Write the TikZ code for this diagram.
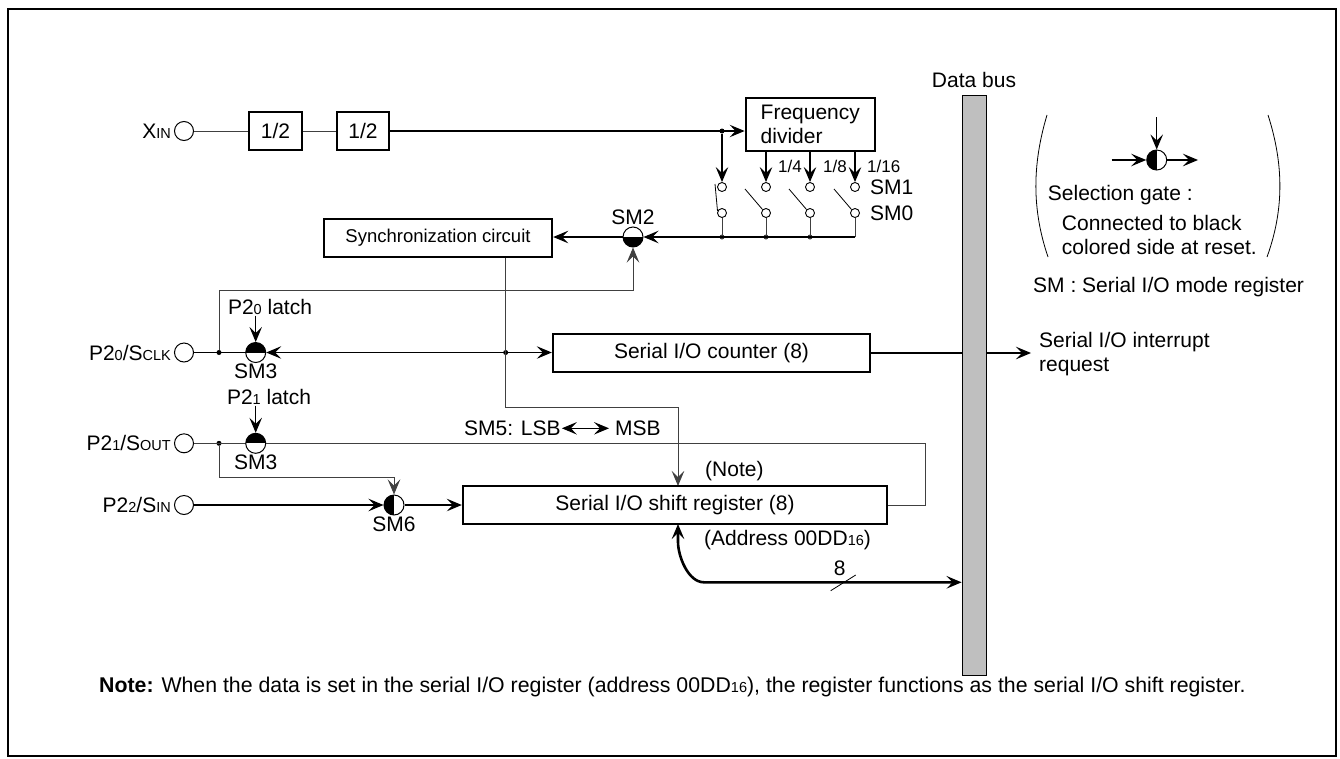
\documentclass[tikz,border=0pt]{standalone}
\usepackage{fontspec}
\setmainfont{Liberation Sans}
\usetikzlibrary{arrows.meta, positioning, calc}
\newcommand{\fs}{\fontsize{21}{24}\selectfont}
\newcommand{\fsm}{\fontsize{18.5}{22}\selectfont}
\newcommand{\fsf}{\fontsize{17}{20}\selectfont}
\newcommand{\sub}[1]{{\fontsize{14.5}{16}\selectfont #1}}

\begin{document}
\begin{tikzpicture}[x=1pt, y=-1pt,
  >={Stealth[length=15pt, width=12.5pt, inset=6pt]},
  wire/.style={line width=1.2pt},
  gwire/.style={line width=1pt, black!75},
  box/.style={draw, line width=2.4pt, minimum height=38pt, inner sep=0pt, font=\fs},
  term/.style={circle, draw, line width=1pt, minimum size=19pt, inner sep=0pt},
  sw/.style={circle, draw, line width=0.9pt, minimum size=9pt, inner sep=0pt},
  gate/.style={circle, draw, line width=1pt, minimum size=20pt, inner sep=0pt},
  blacktop/.style={gate, path picture={\fill (path picture bounding box.north west) rectangle (path picture bounding box.east);}},
  blackbottom/.style={gate, path picture={\fill (path picture bounding box.west) rectangle (path picture bounding box.south east);}},
  blackleft/.style={gate, path picture={\fill (path picture bounding box.north west) rectangle (path picture bounding box.south);}},
  lbl/.style={inner sep=1pt, font=\fs},
  dot/.style={circle, fill, minimum size=5pt, inner sep=0pt}]

  \useasboundingbox (0,0) rectangle (1340,758);
  \draw[line width=2pt] (8,9) rectangle (1336,756);

  % clock source
  \node[term] (xin) at (184,131) {};
  \node[lbl, left=2pt of xin] {X\sub{IN}};
  \node[box, minimum width=53pt] (half1) at (275.5,131) {1/2};
  \node[box, minimum width=52pt] (half2) at (363,131) {1/2};
  \node[box, minimum width=129pt, minimum height=53pt, align=left] (fdiv) at (810.3,124.5) {Frequency\\divider};
  \node[dot] (fj) at (722,131) {};
  \draw[gwire] (xin) -- (half1);
  \draw[gwire] (half1) -- (half2);
  \draw[wire,->] (half2) -- (fdiv.west |- half2);

  \foreach \i/\x in {0/722, 1/766, 2/810, 3/855} {
    \node[sw] (swt\i) at (\x,187) {};
    \node[sw] (swb\i) at (\x,213) {};
  }
  \draw[line width=0.8pt] ($(swt0)+(-7,-3)$) -- ($(swb0)+(-4.5,-2)$);
  \foreach \i in {1,2,3}
    \draw[line width=0.8pt] ($(swb\i)+(-21,-24)$) -- ($(swb\i)+(-3.5,-3.5)$);
  \draw[wire,->] (fj) -- (swt0.north);
  \foreach \i in {1,2,3}
    \draw[wire,->] (fdiv.south -| swt\i) -- (swt\i.north);
  \node[lbl, font=\fsf, anchor=west] at (777,166) {1/4};
  \node[lbl, font=\fsf, anchor=west] at (822,166) {1/8};
  \node[lbl, font=\fsf, anchor=west] at (866,166) {1/16};
  \node[lbl, anchor=west] at (869,187) {SM1};
  \node[lbl, anchor=west] at (869,213) {SM0};

  \node[blackbottom] (sm2) at (633,237) {};
  \node[lbl, above=1pt of sm2] {SM2};
  \node[box, minimum width=228pt, font=\fsm] (sync) at (438,238) {Synchronization circuit};
  \foreach \i in {0,1,2}
    \draw[gwire] (swb\i.south) -- (swb\i |- sm2) node[dot] {};
  \draw[gwire] (swb3.south) -- (swb3 |- sm2);
  \draw[wire,->] (swb3 |- sm2) -- (sm2.east);
  \draw[wire,->] (sm2.west) -- (sync.east |- sm2);

  % P20 / SCLK
  \node[term] (p20) at (184,352.5) {};
  \node[lbl, left=2pt of p20] {P2\sub{0}/S\sub{CLK}};
  \node[dot] (j20) at (219,352.5) {};
  \node[blacktop] (sm3a) at (255.7,352.5) {};
  \node[lbl] (lat20) at (270,306.7) {P2\sub{0} latch};
  \node[lbl, below=0pt of sm3a] {SM3};
  \node[dot] (jc) at (505.7,352.5) {};
  \node[box, minimum width=317pt] (cnt) at (711.5,353) {Serial I/O counter (8)};
  \draw[wire] (p20) -- (sm3a);
  \draw[wire,<->] (sm3a.east) -- (cnt.west |- sm3a);
  \draw[wire,->] (lat20.south -| sm3a) -- (sm3a.north);
  \coordinate (b20) at (219,290);
  \draw[gwire,->] (j20) -- (b20) -| (sm2.south);

  \coordinate (smc) at (505.7,407.3);
  \coordinate (srin) at (678,486);
  \draw[gwire,->] (sync.south -| jc) -- (smc) -| (srin);

  % data bus
  \node[draw, fill=black!25, line width=0.8pt, minimum width=24pt, minimum height=580pt, inner sep=0pt] (bus) at (974,385) {};
  \node[lbl, above=6pt of bus] {Data bus};
  \node[lbl, anchor=west, align=left] (irq) at (1038,354.5) {Serial I/O interrupt\\request};
  \draw[wire] (cnt.east) -- (cnt.east -| bus.west);
  \draw[wire,->, shorten >=7pt] (cnt.east -| bus.east) -- (cnt.east -| irq.west);

  % P21 / SOUT
  \node[term] (p21) at (184,443.3) {};
  \node[lbl, left=2pt of p21] {P2\sub{1}/S\sub{OUT}};
  \node[dot] (j21) at (219,443.3) {};
  \node[blacktop] (sm3b) at (255.7,443.3) {};
  \node[lbl] (lat21) at (269,396.7) {P2\sub{1} latch};
  \node[lbl, below=0pt of sm3b] {SM3};
  \node[lbl, anchor=west] (lsb) at (463,428.3) {SM5: LSB};
  \node[lbl, anchor=west] (msb) at (614,428.3) {MSB};
  \draw[wire,<->, shorten >=5pt] (lsb) -- (msb);

  % P22 / SIN
  \node[term] (p22) at (184,505) {};
  \node[lbl, left=2pt of p22] {P2\sub{2}/S\sub{IN}};
  \node[blackleft] (sm6) at (394,505) {};
  \node[lbl, below=0pt of sm6] {SM6};
  \node[box, minimum width=424pt] (sreg) at (675,505) {Serial I/O shift register (8)};
  \node[lbl, anchor=west] at (704,470.7) {(Note)};
  \node[lbl, anchor=west] at (703,540) {(Address 00DD\sub{16})};

  \draw[gwire] (p21) -- (sm3b);
  \coordinate (rt) at (925.4,443.3);
  \draw[gwire] (sm3b.east) -- (rt) |- (sreg.east);
  \draw[wire,->] (lat21.south -| sm3b) -- (sm3b.north);
  \coordinate (b21) at (219,477.7);
  \draw[gwire,->] (j21) -- (b21) -| (sm6.north);
  \draw[wire,->] (p22) -- (sm6);
  \draw[wire,->] (sm6) -- (sreg);

  \coordinate (srout) at (678,524);
  \coordinate (dbk) at (704,582.3);
  \draw[line width=2.6pt, <->] (srout) -- ++(0,18) .. controls +(0,14) and +(-16,0) .. (dbk) -- (dbk -| bus.west);
  \draw[line width=0.8pt] (830.7,590.7) -- (855.7,575);
  \node[lbl] at (839.6,568.3) {8};

  % legend
  \node[blackleft] (lg) at (1156.7,160) {};
  \coordinate (lgin) at (1111.7,160);
  \coordinate (lgup) at (1156.7,117);
  \coordinate (lgout) at (1198,160);
  \draw[wire,->] (lgin) -- (lg);
  \draw[wire,->] (lgup) -- (lg.north);
  \draw[wire,->] (lg) -- (lgout);
  \draw[line width=0.8pt] (1047,115) .. controls (1032,165) and (1032,210) .. (1048,257);
  \draw[line width=0.8pt] (1268,115) .. controls (1284,165) and (1284,210) .. (1267,257);
  \node[lbl, anchor=west] at (1046.7,195) {Selection gate :};
  \node[lbl, anchor=west] at (1060.7,223) {Connected to black};
  \node[lbl, anchor=west] at (1060.7,246.7) {colored side at reset.};
  \node[lbl, anchor=west] at (1032,286.7) {SM : Serial I/O mode register};

  \node[lbl, anchor=west, font=\fontsize{21.3}{24}\selectfont] (note) at (98,687) {\textbf{Note:} When the data is set in the serial I/O register (address 00DD\sub{16}), the register functions as the serial I/O shift register.};
\end{tikzpicture}
\end{document}
